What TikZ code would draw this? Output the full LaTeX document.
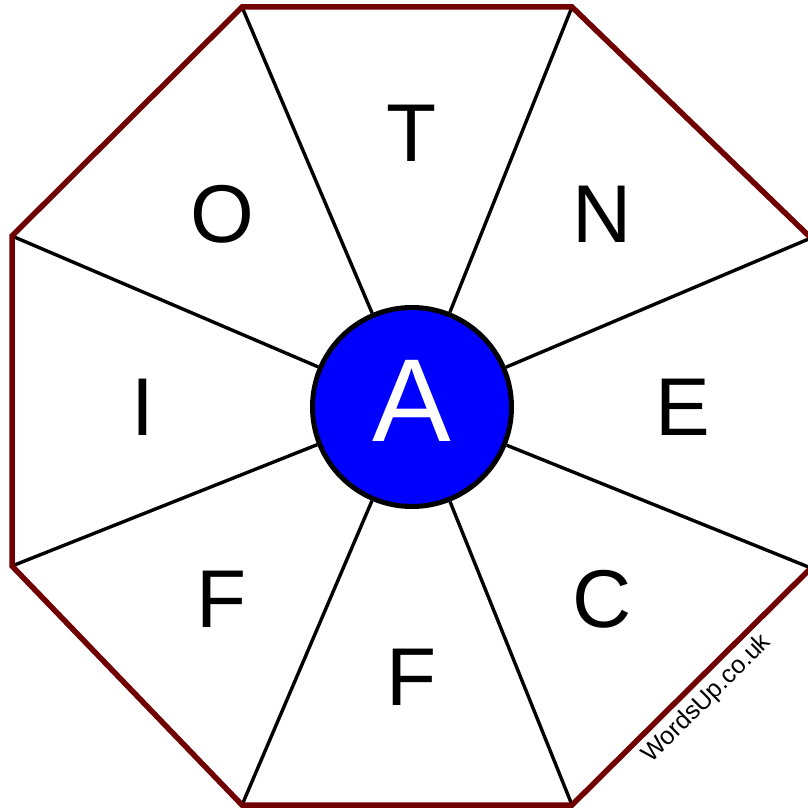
\documentclass[tikz,border=0pt]{standalone}
\usepackage{fontspec}
\setmainfont{Liberation Sans}
\definecolor{rim}{RGB}{112,0,0}
\definecolor{hub}{RGB}{0,0,255}
\begin{document}
\begin{tikzpicture}[x=1pt,y=-1pt,
  rimline/.style={draw=rim,line width=5.5pt,line join=miter},
  spoke/.style={draw=black,line width=3.4pt},
  letter/.style={inner sep=0pt,font=\fontsize{82}{82}\selectfont},
  hubnode/.style={circle,draw=black,fill=hub,line width=5pt,minimum size=199pt,inner sep=0pt}]
\useasboundingbox (0,0) rectangle (807,810);
\coordinate (v1) at (242,7);
\coordinate (v2) at (572,7);
\coordinate (v3) at (811,238);
\coordinate (v4) at (811,568);
\coordinate (v5) at (572,805);
\coordinate (v6) at (242,805);
\coordinate (v7) at (12,566);
\coordinate (v8) at (12,236);
\node[hubnode] (c) at (412,407) {};
\foreach \v in {v1,v2,v3,v4,v5,v6,v7,v8}
  \draw[spoke] (c) -- (\v);
\draw[rimline] (v1) -- (v2) -- (v3) -- (v4) -- (v5) -- (v6) -- (v7) -- (v8) -- cycle;
\node[inner sep=0pt,text=white,font=\fontsize{118}{118}\selectfont] (a) at (412,401) {A};
\node[letter] (t) at (412,133) {T};
\node[letter] (n) at (602,214) {N};
\node[letter] (e) at (683,407) {E};
\node[letter] (cc) at (602,599) {C};
\node[letter] (f1) at (412,677) {F};
\node[letter] (f2) at (222,599) {F};
\node[letter] (i) at (143,407) {I};
\node[letter] (o) at (222,214) {O};
\node[inner sep=0pt,rotate=45,font=\fontsize{25}{25}\selectfont] (w) at (707,699) {WordsUp.co.uk};
\end{tikzpicture}
\end{document}
